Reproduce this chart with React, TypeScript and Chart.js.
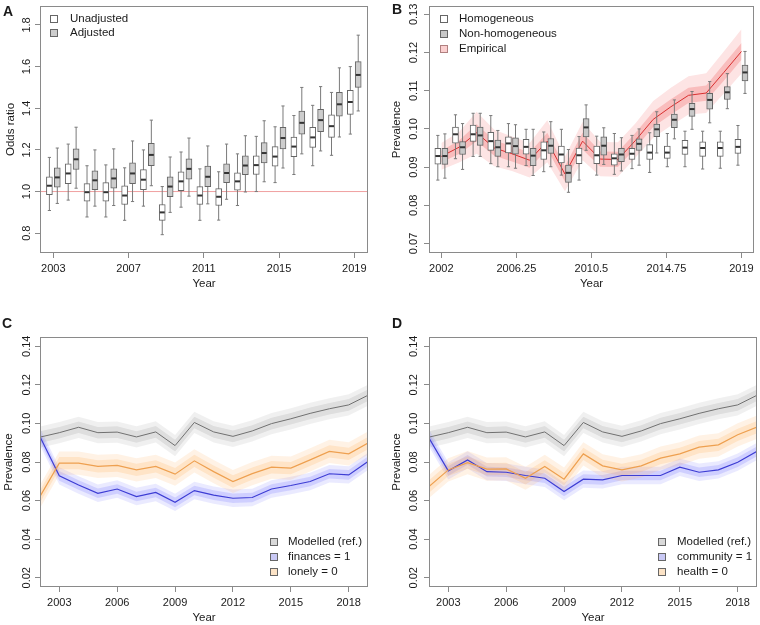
import React, { useEffect, useRef } from 'react';
import { Chart, registerables } from 'chart.js';

Chart.register(...registerables);

const FONT = '"Liberation Sans", Arial, Helvetica, sans-serif';
const TEXT = '#1a1a1a';
const AXIS = '#8a8a8a';
const WHISK = '#7a7a7a';
const BOXLINE = '#666666';
const MED = '#333333';

// ---------------- Panel A : odds ratios ----------------
const yearsA = [2003, 2004, 2005, 2006, 2007, 2008, 2009, 2010, 2011, 2012, 2013, 2014, 2015, 2016, 2017, 2018, 2019];
const unadjMin = [0.909, 0.959, 0.878, 0.878, 0.862, 0.930, 0.793, 0.925, 0.862, 0.863, 0.933, 1.000, 1.043, 1.082, 1.124, 1.174, 1.276];
const unadjQ1 = [0.985, 1.038, 0.954, 0.954, 0.938, 1.009, 0.862, 1.004, 0.938, 0.933, 1.007, 1.082, 1.122, 1.168, 1.212, 1.260, 1.371];
const unadjMed = [1.028, 1.087, 0.997, 0.997, 0.981, 1.057, 0.900, 1.049, 0.981, 0.975, 1.049, 1.127, 1.168, 1.216, 1.260, 1.314, 1.430];
const unadjQ3 = [1.071, 1.133, 1.038, 1.043, 1.027, 1.105, 0.938, 1.095, 1.024, 1.014, 1.090, 1.171, 1.216, 1.262, 1.309, 1.368, 1.486];
const unadjMax = [1.164, 1.228, 1.124, 1.128, 1.114, 1.200, 1.024, 1.190, 1.109, 1.095, 1.181, 1.265, 1.311, 1.365, 1.414, 1.476, 1.600];
const adjMin = [0.943, 1.016, 0.930, 0.933, 0.952, 1.028, 0.900, 0.978, 0.941, 0.963, 0.998, 1.047, 1.113, 1.181, 1.195, 1.262, 1.387];
const adjQ1 = [1.021, 1.106, 1.009, 1.016, 1.038, 1.124, 0.976, 1.059, 1.024, 1.043, 1.081, 1.138, 1.205, 1.276, 1.287, 1.362, 1.500];
const adjMed = [1.068, 1.155, 1.054, 1.063, 1.087, 1.176, 1.024, 1.109, 1.071, 1.089, 1.125, 1.185, 1.257, 1.330, 1.343, 1.419, 1.560];
const adjQ3 = [1.114, 1.205, 1.100, 1.109, 1.138, 1.232, 1.071, 1.157, 1.122, 1.133, 1.171, 1.235, 1.309, 1.387, 1.395, 1.476, 1.624];
const adjMax = [1.209, 1.309, 1.200, 1.205, 1.243, 1.343, 1.166, 1.257, 1.219, 1.228, 1.268, 1.340, 1.411, 1.500, 1.504, 1.594, 1.751];
const refLineA = 1.0;
const xTicksA = [2003, 2007, 2011, 2015, 2019];
const xTickLabelsA = ['2003', '2007', '2011', '2015', '2019'];
const yTicksA = [0.8, 1.0, 1.2, 1.4, 1.6, 1.8];
const yTickLabelsA = ['0.8', '1.0', '1.2', '1.4', '1.6', '1.8'];

// ---------------- Panel B : prevalence, box plots + empirical ----------------
const yearsB = [2002, 2003, 2004, 2005, 2006, 2007, 2008, 2009, 2010, 2011, 2012, 2013, 2014, 2015, 2016, 2017, 2018, 2019];
const homMin = [0.0866, 0.0922, 0.0928, 0.0909, 0.0901, 0.0904, 0.0888, 0.0879, 0.0866, 0.0879, 0.0881, 0.0896, 0.0886, 0.0901, 0.0901, 0.0895, 0.0897, 0.0905];
const homQ1 = [0.0908, 0.0963, 0.0967, 0.0944, 0.0937, 0.0934, 0.0920, 0.0911, 0.0909, 0.0909, 0.0905, 0.0920, 0.0920, 0.0923, 0.0933, 0.0928, 0.0928, 0.0936];
const homMed = [0.0929, 0.0986, 0.0986, 0.0968, 0.0962, 0.0953, 0.0944, 0.0933, 0.0931, 0.0931, 0.0923, 0.0935, 0.0938, 0.0938, 0.0951, 0.0950, 0.0950, 0.0953];
const homQ3 = [0.0949, 0.1005, 0.1010, 0.0991, 0.0979, 0.0973, 0.0966, 0.0955, 0.0950, 0.0955, 0.0935, 0.0949, 0.0959, 0.0955, 0.0970, 0.0966, 0.0966, 0.0973];
const homMax = [0.0983, 0.1037, 0.1041, 0.1035, 0.1014, 0.0999, 0.0992, 0.0999, 0.0980, 0.0981, 0.0988, 0.0983, 0.0990, 0.0988, 0.0994, 0.0994, 0.0994, 0.1009];
const nonMin = [0.0871, 0.0894, 0.0928, 0.0901, 0.0897, 0.0878, 0.0901, 0.0834, 0.0944, 0.0907, 0.0890, 0.0905, 0.0937, 0.0974, 0.0999, 0.1016, 0.1053, 0.1093];
const nonQ1 = [0.0907, 0.0933, 0.0957, 0.0928, 0.0934, 0.0904, 0.0936, 0.0860, 0.0979, 0.0931, 0.0914, 0.0944, 0.0980, 0.1003, 0.1033, 0.1052, 0.1077, 0.1126];
const nonMed = [0.0929, 0.0952, 0.0983, 0.0952, 0.0955, 0.0930, 0.0956, 0.0885, 0.1004, 0.0956, 0.0933, 0.0961, 0.0999, 0.1024, 0.1052, 0.1076, 0.1096, 0.1148];
const nonQ3 = [0.0949, 0.0967, 0.1005, 0.0971, 0.0977, 0.0949, 0.0975, 0.0905, 0.1027, 0.0979, 0.0949, 0.0974, 0.1013, 0.1039, 0.1067, 0.1093, 0.1111, 0.1167];
const nonMax = [0.0987, 0.1014, 0.1041, 0.0996, 0.1011, 0.0999, 0.1019, 0.0946, 0.1063, 0.1003, 0.0977, 0.1000, 0.1045, 0.1076, 0.1098, 0.1124, 0.1145, 0.1203];
const empirical = [0.0928, 0.0952, 0.0990, 0.0950, 0.0935, 0.0918, 0.0968, 0.0882, 0.0968, 0.0921, 0.0920, 0.0970, 0.1025, 0.1058, 0.1088, 0.1094, 0.1148, 0.1203];
const empOuterHW = [0.0035, 0.0040, 0.0055, 0.0048, 0.0045, 0.0045, 0.0055, 0.0045, 0.0050, 0.0045, 0.0045, 0.0045, 0.0048, 0.0050, 0.0050, 0.0052, 0.0055, 0.0058];
const empInnerHW = [0.0015, 0.0018, 0.0022, 0.0020, 0.0020, 0.0020, 0.0022, 0.0020, 0.0022, 0.0020, 0.0020, 0.0020, 0.0020, 0.0020, 0.0020, 0.0020, 0.0022, 0.0022];
const xTicksB = [2002, 2006.25, 2010.5, 2014.75, 2019];
const xTickLabelsB = ['2002', '2006.25', '2010.5', '2014.75', '2019'];
const yTicksB = [0.07, 0.08, 0.09, 0.10, 0.11, 0.12, 0.13];
const yTickLabelsB = ['0.07', '0.08', '0.09', '0.10', '0.11', '0.12', '0.13'];

// ---------------- Panels C & D : counterfactual prevalence ----------------
const yearsCD = [2002, 2003, 2004, 2005, 2006, 2007, 2008, 2009, 2010, 2011, 2012, 2013, 2014, 2015, 2016, 2017, 2018, 2019];
const modelledRef = [0.0929, 0.0952, 0.0980, 0.0952, 0.0955, 0.0930, 0.0956, 0.0885, 0.1005, 0.0956, 0.0933, 0.0961, 0.0999, 0.1024, 0.1052, 0.1076, 0.1096, 0.1146];
const finances1 = [0.0931, 0.0728, 0.0681, 0.0638, 0.0660, 0.0621, 0.0642, 0.0591, 0.0652, 0.0628, 0.0612, 0.0616, 0.0660, 0.0678, 0.0699, 0.0739, 0.0733, 0.0803];
const lonely0 = [0.0621, 0.0794, 0.0794, 0.0777, 0.0782, 0.0759, 0.0777, 0.0737, 0.0806, 0.0750, 0.0699, 0.0740, 0.0773, 0.0768, 0.0811, 0.0855, 0.0842, 0.0898];
const community1 = [0.0924, 0.0754, 0.0811, 0.0750, 0.0747, 0.0730, 0.0716, 0.0647, 0.0711, 0.0707, 0.0730, 0.0730, 0.0730, 0.0773, 0.0747, 0.0759, 0.0799, 0.0855];
const health0 = [0.0673, 0.0759, 0.0797, 0.0763, 0.0764, 0.0716, 0.0777, 0.0711, 0.0842, 0.0780, 0.0759, 0.0780, 0.0820, 0.0842, 0.0877, 0.0889, 0.0941, 0.0981];
const greyOuterHW = 0.0055;
const greyInnerHW = 0.0030;
const blueOuterHW = 0.0045;
const blueInnerHW = 0.0025;
const orangeOuterHW = 0.0060;
const orangeInnerHW = 0.0032;
const xTicksCD = [2003, 2006, 2009, 2012, 2015, 2018];
const xTickLabelsCD = ['2003', '2006', '2009', '2012', '2015', '2018'];
const yTicksCD = [0.02, 0.04, 0.06, 0.08, 0.10, 0.12, 0.14];
const yTickLabelsCD = ['0.02', '0.04', '0.06', '0.08', '0.10', '0.12', '0.14'];

// ---------------- helpers ----------------
type Layout = {
  left: number; top: number; w: number; h: number;
  plotLeft: number; plotTop: number; plotRight: number; plotBottom: number;
  xMin: number; xMax: number; yMin: number; yMax: number;
};
type LegendItem = { label: string; fill: string; stroke: string };
type Decor = {
  letter: string; letterX: number; letterY: number;
  yTitle: string; yTitleX: number; xTitle: string; xTitleDy: number;
  yLabelX: number; yTicks: number[]; yTickLabels: string[];
  legend: LegendItem[]; legendX: number; legendTextX: number; legendY: number[];
};

function makeScales(s: Layout, xTicks: number[], xLabels: string[], yTicks: number[]) {
  const grid = { display: true, drawOnChartArea: false, drawTicks: true, tickLength: 5, color: AXIS, lineWidth: 1, offset: false };
  return {
    x: {
      type: 'linear', min: s.xMin, max: s.xMax, offset: false,
      afterBuildTicks: (sc: any) => { sc.ticks = xTicks.map((v) => ({ value: v })); },
      afterFit: (sc: any) => { sc.height = s.h - s.plotBottom; },
      grid, border: { display: false },
      ticks: {
        autoSkip: false, maxRotation: 0, minRotation: 0, padding: 4, color: TEXT,
        font: { family: FONT, size: 11 },
        callback: (_v: any, i: number) => xLabels[i],
      },
    },
    y: {
      type: 'linear', min: s.yMin, max: s.yMax,
      afterBuildTicks: (sc: any) => { sc.ticks = yTicks.map((v) => ({ value: v })); },
      afterFit: (sc: any) => { sc.width = s.plotLeft; },
      grid, border: { display: false },
      ticks: { display: false },
    },
  };
}

function decorPlugin(d: Decor) {
  return {
    id: 'decor',
    afterDraw(chart: any) {
      const ctx = chart.ctx as CanvasRenderingContext2D;
      const a = chart.chartArea;
      const ys = chart.scales.y;
      ctx.save();
      ctx.strokeStyle = AXIS;
      ctx.lineWidth = 1;
      const l = Math.round(a.left) + 0.5;
      const t = Math.round(a.top) + 0.5;
      const r = Math.round(a.right) - 0.5;
      const b = Math.round(a.bottom) - 0.5;
      ctx.strokeRect(l, t, r - l, b - t);

      ctx.fillStyle = TEXT;
      ctx.font = `11px ${FONT}`;
      ctx.textAlign = 'center';
      ctx.textBaseline = 'middle';
      d.yTicks.forEach((v, i) => {
        const y = ys.getPixelForValue(v);
        ctx.save();
        ctx.translate(d.yLabelX, y);
        ctx.rotate(-Math.PI / 2);
        ctx.fillText(d.yTickLabels[i], 0, 0);
        ctx.restore();
      });

      ctx.font = `11.5px ${FONT}`;
      ctx.save();
      ctx.translate(d.yTitleX, (a.top + a.bottom) / 2);
      ctx.rotate(-Math.PI / 2);
      ctx.fillText(d.yTitle, 0, 0);
      ctx.restore();
      ctx.fillText(d.xTitle, (a.left + a.right) / 2, a.bottom + d.xTitleDy);

      ctx.font = `bold 14px ${FONT}`;
      ctx.textAlign = 'left';
      ctx.textBaseline = 'alphabetic';
      ctx.fillText(d.letter, d.letterX, d.letterY);

      ctx.font = `11.5px ${FONT}`;
      ctx.textBaseline = 'middle';
      d.legend.forEach((it, i) => {
        const y = d.legendY[i];
        ctx.fillStyle = it.fill;
        ctx.fillRect(d.legendX, y - 4, 8, 8);
        ctx.strokeStyle = it.stroke;
        ctx.strokeRect(d.legendX + 0.5, y - 3.5, 7, 7);
        ctx.fillStyle = TEXT;
        ctx.fillText(it.label, d.legendTextX, y);
      });
      ctx.restore();
    },
  };
}

function boxSets(xs: number[], off: number, mins: number[], q1s: number[], meds: number[], q3s: number[], maxs: number[], fill: string, width: number) {
  const px = xs.map((x) => x + off);
  return [
    {
      type: 'line',
      data: px.flatMap((x, i) => [{ x, y: mins[i] }, { x, y: maxs[i] }, { x, y: null }]),
      borderColor: WHISK, borderWidth: 1, pointRadius: 0, spanGaps: false, fill: false, order: 40,
    },
    {
      type: 'scatter',
      data: px.flatMap((x, i) => [{ x, y: mins[i] }, { x, y: maxs[i] }]),
      pointStyle: 'line', pointRadius: 1.6, pointBorderWidth: 1, pointBorderColor: WHISK, borderColor: WHISK, order: 35,
    },
    {
      type: 'bar',
      data: px.map((x, i) => ({ x, y: [q1s[i], q3s[i]] })),
      backgroundColor: fill, borderColor: BOXLINE, borderWidth: 1, borderSkipped: false,
      barThickness: width, maxBarThickness: width, grouped: false, order: 30,
    },
    {
      type: 'scatter',
      data: px.map((x, i) => ({ x, y: meds[i] })),
      pointStyle: 'line', pointRadius: width / 2 - 0.5, pointBorderWidth: 2, pointBorderColor: MED, borderColor: MED, order: 20,
    },
  ];
}

function bandSets(xs: number[], vals: number[], outer: number[], inner: number[], light: string, dark: string, line: string, lineWidth: number, baseOrder: number) {
  const pts = (sign: number, hw: number[]) => xs.map((x, i) => ({ x, y: vals[i] + sign * hw[i] }));
  const common = { type: 'line', borderColor: 'transparent', borderWidth: 0, pointRadius: 0 };
  return [
    { ...common, data: pts(-1, outer), fill: false, order: baseOrder },
    { ...common, data: pts(1, outer), fill: '-1', backgroundColor: light, order: baseOrder },
    { ...common, data: pts(-1, inner), fill: false, order: baseOrder - 1 },
    { ...common, data: pts(1, inner), fill: '-1', backgroundColor: dark, order: baseOrder - 1 },
    { type: 'line', data: xs.map((x, i) => ({ x, y: vals[i] })), borderColor: line, borderWidth: lineWidth, pointRadius: 0, fill: false, order: baseOrder - 50 },
  ];
}

function baseConfig(s: Layout, datasets: any[], xTicks: number[], xLabels: string[], yTicks: number[], decor: Decor) {
  return {
    type: 'scatter',
    data: { datasets },
    options: {
      responsive: false,
      animation: false,
      events: [],
      layout: { padding: { left: 0, top: s.plotTop, right: s.w - s.plotRight, bottom: 0 } },
      plugins: { legend: { display: false }, tooltip: { enabled: false } },
      scales: makeScales(s, xTicks, xLabels, yTicks),
    },
    plugins: [decorPlugin(decor)],
  };
}

// ---------------- panel configs ----------------
const layoutA: Layout = { left: 0, top: 0, w: 380, h: 305, plotLeft: 40, plotTop: 5, plotRight: 368, plotBottom: 253, xMin: 2002.29, xMax: 2019.73, yMin: 0.705, yMax: 1.891 };
const layoutB: Layout = { left: 380, top: 0, w: 380, h: 305, plotLeft: 49, plotTop: 5, plotRight: 377, plotBottom: 253, xMin: 2001.3, xMax: 2019.71, yMin: 0.0675, yMax: 0.1322 };
const layoutC: Layout = { left: 0, top: 310, w: 380, h: 315, plotLeft: 40, plotTop: 27, plotRight: 368, plotBottom: 277, xMin: 2002, xMax: 2019, yMin: 0.0152, yMax: 0.1448 };
const layoutD: Layout = { left: 380, top: 310, w: 380, h: 315, plotLeft: 49, plotTop: 27, plotRight: 377, plotBottom: 277, xMin: 2002, xMax: 2019, yMin: 0.0152, yMax: 0.1448 };

function configA() {
  const datasets = [
    { type: 'line', label: 'reference', data: [{ x: layoutA.xMin, y: refLineA }, { x: layoutA.xMax, y: refLineA }], borderColor: '#f0a0a0', backgroundColor: '#f0a0a0', borderWidth: 1, pointRadius: 0, showLine: true, fill: false, order: 60 },
    ...boxSets(yearsA, -0.21, unadjMin, unadjQ1, unadjMed, unadjQ3, unadjMax, '#ffffff', 6),
    ...boxSets(yearsA, 0.21, adjMin, adjQ1, adjMed, adjQ3, adjMax, '#cdcdcd', 6),
  ];
  return baseConfig(layoutA, datasets, xTicksA, xTickLabelsA, yTicksA, {
    letter: 'A', letterX: 3, letterY: 16, yTitle: 'Odds ratio', yTitleX: 10.5, xTitle: 'Year', xTitleDy: 31,
    yLabelX: 27, yTicks: yTicksA, yTickLabels: yTickLabelsA,
    legend: [
      { label: 'Unadjusted', fill: '#ffffff', stroke: BOXLINE },
      { label: 'Adjusted', fill: '#cdcdcd', stroke: BOXLINE },
    ],
    legendX: 50, legendTextX: 70, legendY: [19, 33],
  });
}

function configB() {
  const datasets = [
    ...bandSets(yearsB, empirical, empOuterHW, empInnerHW, '#fde4e4', '#f9bdbd', '#d93030', 1, 120),
    ...boxSets(yearsB, -0.2, homMin, homQ1, homMed, homQ3, homMax, '#ffffff', 6),
    ...boxSets(yearsB, 0.2, nonMin, nonQ1, nonMed, nonQ3, nonMax, '#c8c8c8', 6),
  ];
  return baseConfig(layoutB, datasets, xTicksB, xTickLabelsB, yTicksB, {
    letter: 'B', letterX: 12, letterY: 14, yTitle: 'Prevalence', yTitleX: 17, xTitle: 'Year', xTitleDy: 31,
    yLabelX: 34, yTicks: yTicksB, yTickLabels: yTickLabelsB,
    legend: [
      { label: 'Homogeneous', fill: '#ffffff', stroke: BOXLINE },
      { label: 'Non-homogeneous', fill: '#c8c8c8', stroke: BOXLINE },
      { label: 'Empirical', fill: '#fbd0d0', stroke: '#b08080' },
    ],
    legendX: 60, legendTextX: 79, legendY: [19, 34, 49],
  });
}

function cdDatasets(blueVals: number[], orangeVals: number[]) {
  const rep = (v: number) => yearsCD.map(() => v);
  return [
    ...bandSets(yearsCD, modelledRef, rep(greyOuterHW), rep(greyInnerHW), 'rgba(0,0,0,0.06)', 'rgba(0,0,0,0.08)', '#707070', 1, 120),
    ...bandSets(yearsCD, blueVals, rep(blueOuterHW), rep(blueInnerHW), 'rgba(90,90,255,0.13)', 'rgba(90,90,255,0.18)', '#3d3dd4', 1.2, 110),
    ...bandSets(yearsCD, orangeVals, rep(orangeOuterHW), rep(orangeInnerHW), 'rgba(255,170,80,0.15)', 'rgba(255,170,80,0.20)', '#eea050', 1.2, 100),
  ];
}

function configC() {
  return baseConfig(layoutC, cdDatasets(finances1, lonely0), xTicksCD, xTickLabelsCD, yTicksCD, {
    letter: 'C', letterX: 2, letterY: 18, yTitle: 'Prevalence', yTitleX: 8.5, xTitle: 'Year', xTitleDy: 31,
    yLabelX: 27, yTicks: yTicksCD, yTickLabels: yTickLabelsCD,
    legend: [
      { label: 'Modelled (ref.)', fill: '#d9d9d9', stroke: BOXLINE },
      { label: 'finances = 1', fill: '#c9c9f5', stroke: BOXLINE },
      { label: 'lonely = 0', fill: '#fce3c6', stroke: BOXLINE },
    ],
    legendX: 270, legendTextX: 288, legendY: [232, 247, 262],
  });
}

function configD() {
  return baseConfig(layoutD, cdDatasets(community1, health0), xTicksCD, xTickLabelsCD, yTicksCD, {
    letter: 'D', letterX: 12, letterY: 18, yTitle: 'Prevalence', yTitleX: 17, xTitle: 'Year', xTitleDy: 31,
    yLabelX: 34, yTicks: yTicksCD, yTickLabels: yTickLabelsCD,
    legend: [
      { label: 'Modelled (ref.)', fill: '#d9d9d9', stroke: BOXLINE },
      { label: 'community = 1', fill: '#c9c9f5', stroke: BOXLINE },
      { label: 'health = 0', fill: '#fce3c6', stroke: BOXLINE },
    ],
    legendX: 278, legendTextX: 297, legendY: [232, 247, 262],
  });
}

function Panel({ layout, make }: { layout: Layout; make: () => any }) {
  const ref = useRef<HTMLCanvasElement | null>(null);
  useEffect(() => {
    if (!ref.current) return;
    const chart = new Chart(ref.current, make());
    return () => chart.destroy();
  }, []);
  return (
    <canvas
      ref={ref}
      width={layout.w}
      height={layout.h}
      style={{ position: 'absolute', left: layout.left, top: layout.top, width: layout.w, height: layout.h }}
    />
  );
}

export default function App() {
  return (
    <div style={{ position: 'fixed', left: 0, top: 0, width: 760, height: 625, background: '#ffffff', overflow: 'hidden' }}>
      <Panel layout={layoutA} make={configA} />
      <Panel layout={layoutB} make={configB} />
      <Panel layout={layoutC} make={configC} />
      <Panel layout={layoutD} make={configD} />
    </div>
  );
}
